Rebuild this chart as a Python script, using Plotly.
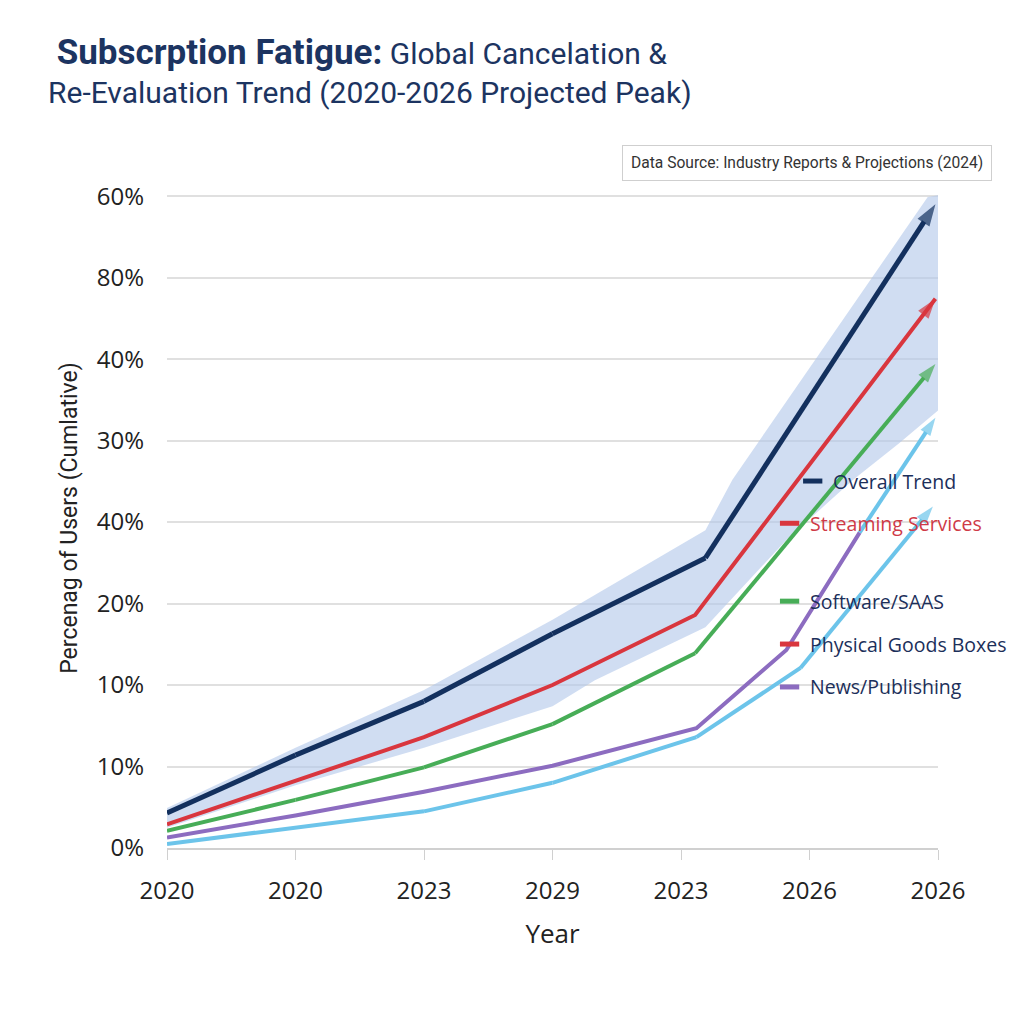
import plotly.graph_objects as go

# x positions are slots on the category-like axis (0..6), y in grid units (10 per gridline)
x_ticks = [0, 1, 2, 3, 4, 5, 6]
x_labels = ["2020", "2020", "2023", "2029", "2023", "2026", "2026"]
y_ticks = [0, 10, 20, 30, 40, 50, 60, 70, 80]
y_labels = ["0%", "10%", "10%", "20%", "40%", "30%", "40%", "80%", "60%"]

overall_x = [0, 1, 2, 3, 4.19, 5.98]
overall_y = [4.3, 11.4, 18.0, 26.3, 35.6, 79.0]

streaming_x = [0, 1, 2, 3, 4.11, 5.98]
streaming_y = [2.9, 8.3, 13.6, 20.0, 28.6, 67.4]

software_x = [0, 1, 2, 3, 4.11, 5.98]
software_y = [2.1, 5.9, 9.9, 15.2, 23.9, 59.4]

news_x = [0, 1, 2, 3, 4.12, 4.82, 5.39]
news_y = [1.3, 4.0, 6.9, 10.1, 14.7, 24.3, 38.7]

news_ext_x = [5.39, 5.98]
news_ext_y = [38.7, 52.8]

physical_x = [0, 1, 2, 3, 4.12, 4.93, 5.96]
physical_y = [0.5, 2.5, 4.5, 8.0, 13.6, 22.1, 41.9]

band_x = [0, 1, 2, 3, 4.19, 4.4, 5.92, 6.0]
band_upper = [4.9, 12.3, 19.4, 28.0, 39.0, 45.2, 79.9, 80.1]
band_lower_x = [0, 1, 2, 3, 3.33, 4.19, 4.82, 5.34, 5.7, 6.0]
band_lower = [2.5, 7.7, 12.3, 17.4, 20.6, 27.1, 37.8, 45.2, 49.7, 53.7]

legend_names = ["Overall Trend", "Streaming Services", "Software/SAAS",
                "Physical Goods Boxes", "News/Publishing"]
legend_colors = ["#13305e", "#d9363e", "#47ad57", "#d9363e", "#8c6cc0"]
legend_text_colors = ["#1c2f5a", "#cf3a47", "#1c2f5a", "#1c2f5a", "#1c2f5a"]

navy = "#13305e"
red = "#d9363e"
green = "#47ad57"
purple = "#8c6cc0"
lightblue = "#6cc4ea"


def arrow_marker(n, color, size=17):
    return dict(symbol=["circle"] * (n - 1) + ["arrow"],
                size=[0] * (n - 1) + [size],
                angleref="previous", color=color, line=dict(width=0))


fig = go.Figure()

# shaded band
fig.add_trace(go.Scatter(x=band_lower_x + band_x[::-1], y=band_lower + band_upper[::-1],
                         fill="toself", fillcolor="rgba(176,199,233,0.6)",
                         line=dict(width=0), mode="lines", showlegend=False, hoverinfo="skip"))

fig.add_trace(go.Scatter(x=physical_x, y=physical_y, mode="lines+markers",
                         line=dict(color=lightblue, width=4), marker=arrow_marker(len(physical_x), lightblue, 19),
                         cliponaxis=False, showlegend=False))
fig.add_trace(go.Scatter(x=news_ext_x, y=news_ext_y, mode="lines+markers",
                         line=dict(color=lightblue, width=4), marker=arrow_marker(len(news_ext_x), lightblue, 19),
                         cliponaxis=False, showlegend=False))
fig.add_trace(go.Scatter(x=news_x, y=news_y, mode="lines",
                         line=dict(color=purple, width=4), showlegend=False))
fig.add_trace(go.Scatter(x=software_x, y=software_y, mode="lines+markers",
                         line=dict(color=green, width=4), marker=arrow_marker(len(software_x), green, 20),
                         cliponaxis=False, showlegend=False))
fig.add_trace(go.Scatter(x=streaming_x, y=streaming_y, mode="lines+markers",
                         line=dict(color=red, width=4), marker=arrow_marker(len(streaming_x), red, 21),
                         cliponaxis=False, showlegend=False))
fig.add_trace(go.Scatter(x=overall_x, y=overall_y, mode="lines+markers",
                         line=dict(color=navy, width=5), marker=arrow_marker(len(overall_x), navy, 23),
                         cliponaxis=False, showlegend=False))

# in-plot legend
leg_y = [0.556, 0.492, 0.374, 0.309, 0.244]
for i, name in enumerate(legend_names):
    x0 = 0.825 if i == 0 else 0.795
    fig.add_shape(type="line", xref="paper", yref="paper", x0=x0, x1=x0 + 0.025,
                  y0=leg_y[i], y1=leg_y[i], line=dict(color=legend_colors[i], width=5))
    fig.add_annotation(xref="paper", yref="paper", x=x0 + 0.036, y=leg_y[i],
                       xanchor="left", yanchor="middle", showarrow=False, text=name,
                       font=dict(family="Open Sans", size=19.5, color=legend_text_colors[i]))

fig.add_annotation(xref="paper", yref="paper", x=1.07, y=1.038, xanchor="right", yanchor="middle",
                   showarrow=False, text="Data Source: Industry Reports & Projections (2024)",
                   font=dict(family="Roboto", size=15.6, color="#333333"),
                   bordercolor="#cfcfcf", borderwidth=1, borderpad=8, bgcolor="white")

fig.add_annotation(xref="paper", yref="paper", x=-0.157, y=1.24, xanchor="left", yanchor="top",
                   showarrow=False, align="left",
                   text="<b><span style='font-size:35px'> Subscrption Fatigue:</span></b> Global Cancelation &<br>"
                        "Re-Evaluation Trend (2020-2026 Projected Peak)",
                   font=dict(family="Roboto", size=30, color="#1c3461"))

fig.update_layout(
    width=1008, height=1008,
    margin=dict(l=159, r=78, t=180, b=168),
    paper_bgcolor="white", plot_bgcolor="white",
    showlegend=False,
    xaxis=dict(range=[0, 6], tickvals=x_ticks, ticktext=x_labels, showgrid=False,
               showline=True, linecolor="#d0d0d0", linewidth=1.5, ticks="outside",
               ticklen=10, tickcolor="#d0d0d0", zeroline=False, ticklabelstandoff=10,
               tickfont=dict(family="Open Sans", size=24, color="#222222"),
               title=dict(text="Year", font=dict(family="Open Sans", size=26, color="#222222"), standoff=20)),
    yaxis=dict(range=[0, 81], tickvals=y_ticks, ticktext=y_labels, showgrid=True,
               gridcolor="#e0e0e0", gridwidth=1.5, zeroline=False, showline=False,
               ticklabelstandoff=22,
               tickfont=dict(family="Open Sans", size=24, color="#222222"),
               title=dict(text="Percenag of Users (Cumlative)",
                          font=dict(family="Roboto", size=23, color="#222222"), standoff=12)),
)

fig.write_html("out.html")
